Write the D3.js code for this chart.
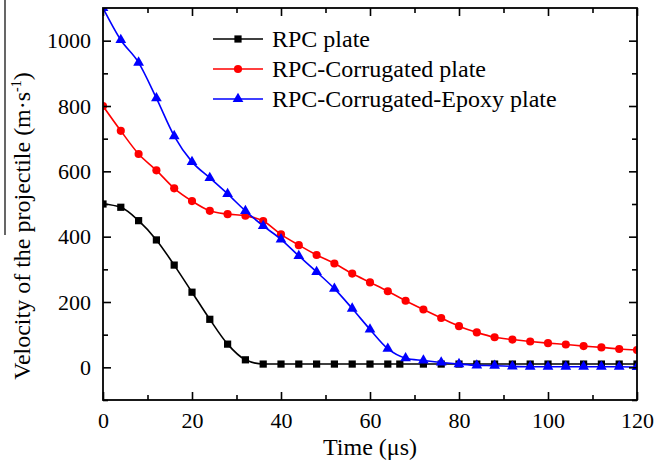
<!DOCTYPE html>
<html>
<head>
<meta charset="utf-8">
<script src="https://cdn.jsdelivr.net/npm/d3@7"></script>
<style>
  body { margin: 0; background: #fff; }
  text { font-family: "Liberation Serif", "Times New Roman", serif; fill: #000; }
</style>
</head>
<body>
<div id="chart"></div>
<script>
// time steps (µs) and velocities (m/s)
const tRpc = [0, 4, 8, 12, 16, 20, 24, 28, 32, 36, 40, 44, 48, 52, 56, 60, 64, 66.7, 72, 76, 80, 84, 88, 92, 96, 100, 104, 108, 112, 116, 120]
const vRpc = [500, 490, 449, 390, 313, 230, 147, 71, 23, 10, 10, 10, 10, 10, 10, 10, 10, 10, 10, 10, 10, 10, 10, 10, 10, 10, 10, 10, 10, 10, 10]

const tStep = [0, 4, 8, 12, 16, 20, 24, 28, 32, 36, 40, 44, 48, 52, 56, 60, 64, 68, 72, 76, 80, 84, 88, 92, 96, 100, 104, 108, 112, 116, 120]
const vCorr = [800, 724, 653, 603, 548, 509, 479, 469, 464, 448, 407, 374, 344, 318, 287, 260, 233, 204, 177, 151, 126, 107, 92, 85, 79, 74, 70, 65, 61, 56, 53]
const vEpoxy = [1100, 1002, 933, 824, 708, 629, 580, 531, 479, 433, 392, 341, 292, 241, 180, 116, 57, 28, 21, 15, 10, 6, 5, 3, 2, 2, 2, 2, 2, 2, 1]

const seriesNames = ["RPC plate", "RPC-Corrugated plate", "RPC-Corrugated-Epoxy plate"]
const xTicks = [0, 20, 40, 60, 80, 100, 120]
const yTicks = [0, 200, 400, 600, 800, 1000]

const width = 656
const height = 468
const margin = { top: 8, right: 19, bottom: 68, left: 103 }

const series = [
  { name: seriesNames[0], color: "#000000", shape: "square", pts: tRpc.map((t, i) => [t, vRpc[i]]) },
  { name: seriesNames[1], color: "#ff0000", shape: "circle", pts: tStep.map((t, i) => [t, vCorr[i]]) },
  { name: seriesNames[2], color: "#0000ff", shape: "triangle", pts: tStep.map((t, i) => [t, vEpoxy[i]]) }
]

const svg = d3.select("#chart").append("svg")
  .attr("width", width)
  .attr("height", height)

const x = d3.scaleLinear().domain([0, 120]).range([margin.left, width - margin.right])
const y = d3.scaleLinear().domain([-100, 1100]).range([height - margin.bottom, margin.top])

const symbolOf = {
  square: d3.symbol().type(d3.symbolSquare).size(52),
  circle: d3.symbol().type(d3.symbolCircle).size(52),
  triangle: d3.symbol().type(d3.symbolTriangle).size(50)
}

svg.append("clipPath").attr("id", "plot-clip")
  .append("rect")
  .attr("x", x(0)).attr("y", y(1100))
  .attr("width", x(120) - x(0)).attr("height", y(-100) - y(1100))

const plot = svg.append("g").attr("clip-path", "url(#plot-clip)")

const line = d3.line()
  .x(d => x(d[0]))
  .y(d => y(d[1]))
  .curve(d3.curveMonotoneX)

series.forEach(s => {
  plot.append("path")
    .attr("d", line(s.pts))
    .attr("fill", "none")
    .attr("stroke", s.color)
    .attr("stroke-width", 1.6)

  plot.selectAll(null)
    .data(s.pts)
    .join("path")
    .attr("transform", d => `translate(${x(d[0])},${y(d[1])})`)
    .attr("d", symbolOf[s.shape]())
    .attr("fill", s.color)
})

// axes with inward ticks
const xMinor = d3.range(10, 120, 20)
const yMinor = [-100, 100, 300, 500, 700, 900]
const fmt = d3.format("d")

function styleAxis(g) {
  g.attr("font-family", null).attr("font-size", null)
  g.select(".domain").remove()
  g.selectAll("line").attr("stroke", "#000").attr("stroke-width", 1.6)
  g.selectAll("text")
    .style("font-family", "'Liberation Serif', 'Times New Roman', serif")
    .style("font-size", "22px")
}

svg.append("g")
  .attr("transform", `translate(0,${y(-100)})`)
  .call(d3.axisBottom(x).tickValues(xTicks).tickFormat(fmt).tickSize(-8).tickPadding(12))
  .call(styleAxis)
svg.append("g")
  .attr("transform", `translate(0,${y(-100)})`)
  .call(d3.axisBottom(x).tickValues(xMinor).tickSize(-5).tickFormat(""))
  .call(styleAxis)
svg.append("g")
  .attr("transform", `translate(0,${y(1100)})`)
  .call(d3.axisTop(x).tickValues(xTicks).tickSize(-8).tickFormat(""))
  .call(styleAxis)
svg.append("g")
  .attr("transform", `translate(0,${y(1100)})`)
  .call(d3.axisTop(x).tickValues(xMinor).tickSize(-5).tickFormat(""))
  .call(styleAxis)

svg.append("g")
  .attr("transform", `translate(${x(0)},0)`)
  .call(d3.axisLeft(y).tickValues(yTicks).tickFormat(fmt).tickSize(-8).tickPadding(12))
  .call(styleAxis)
svg.append("g")
  .attr("transform", `translate(${x(0)},0)`)
  .call(d3.axisLeft(y).tickValues(yMinor).tickSize(-5).tickFormat(""))
  .call(styleAxis)
svg.append("g")
  .attr("transform", `translate(${x(120)},0)`)
  .call(d3.axisRight(y).tickValues(yTicks).tickSize(-8).tickFormat(""))
  .call(styleAxis)
svg.append("g")
  .attr("transform", `translate(${x(120)},0)`)
  .call(d3.axisRight(y).tickValues(yMinor).tickSize(-5).tickFormat(""))
  .call(styleAxis)

// frame
svg.append("rect")
  .attr("x", x(0)).attr("y", y(1100))
  .attr("width", x(120) - x(0)).attr("height", y(-100) - y(1100))
  .attr("fill", "none")
  .attr("stroke", "#000")
  .attr("stroke-width", 1.8)

// axis titles
svg.append("text")
  .attr("x", (x(0) + x(120)) / 2)
  .attr("y", 455)
  .attr("text-anchor", "middle")
  .style("font-size", "24px")
  .text("Time (μs)")

const yLabel = svg.append("text")
  .attr("transform", "translate(30,226) rotate(-90)")
  .attr("text-anchor", "middle")
  .style("font-size", "24px")
yLabel.append("tspan").text("Velocity of the projectile (m·s")
yLabel.append("tspan").attr("dy", -9).style("font-size", "14px").text("-1")
yLabel.append("tspan").attr("dy", 9).text(")")

// stray overline in the original scan
svg.append("line")
  .attr("x1", 5).attr("x2", 5)
  .attr("y1", 0).attr("y2", 235)
  .attr("stroke", "#000")
  .attr("stroke-width", 1.2)

// legend
const legend = svg.append("g")
series.forEach((s, i) => {
  const ly = 39 + i * 30
  legend.append("line")
    .attr("x1", 213).attr("x2", 263)
    .attr("y1", ly).attr("y2", ly)
    .attr("stroke", s.color)
    .attr("stroke-width", 1.6)
  legend.append("path")
    .attr("transform", `translate(238,${ly})`)
    .attr("d", symbolOf[s.shape]())
    .attr("fill", s.color)
  legend.append("text")
    .attr("x", 272)
    .attr("y", ly + 8)
    .style("font-size", "24px")
    .text(s.name)
})
</script>
</body>
</html>
